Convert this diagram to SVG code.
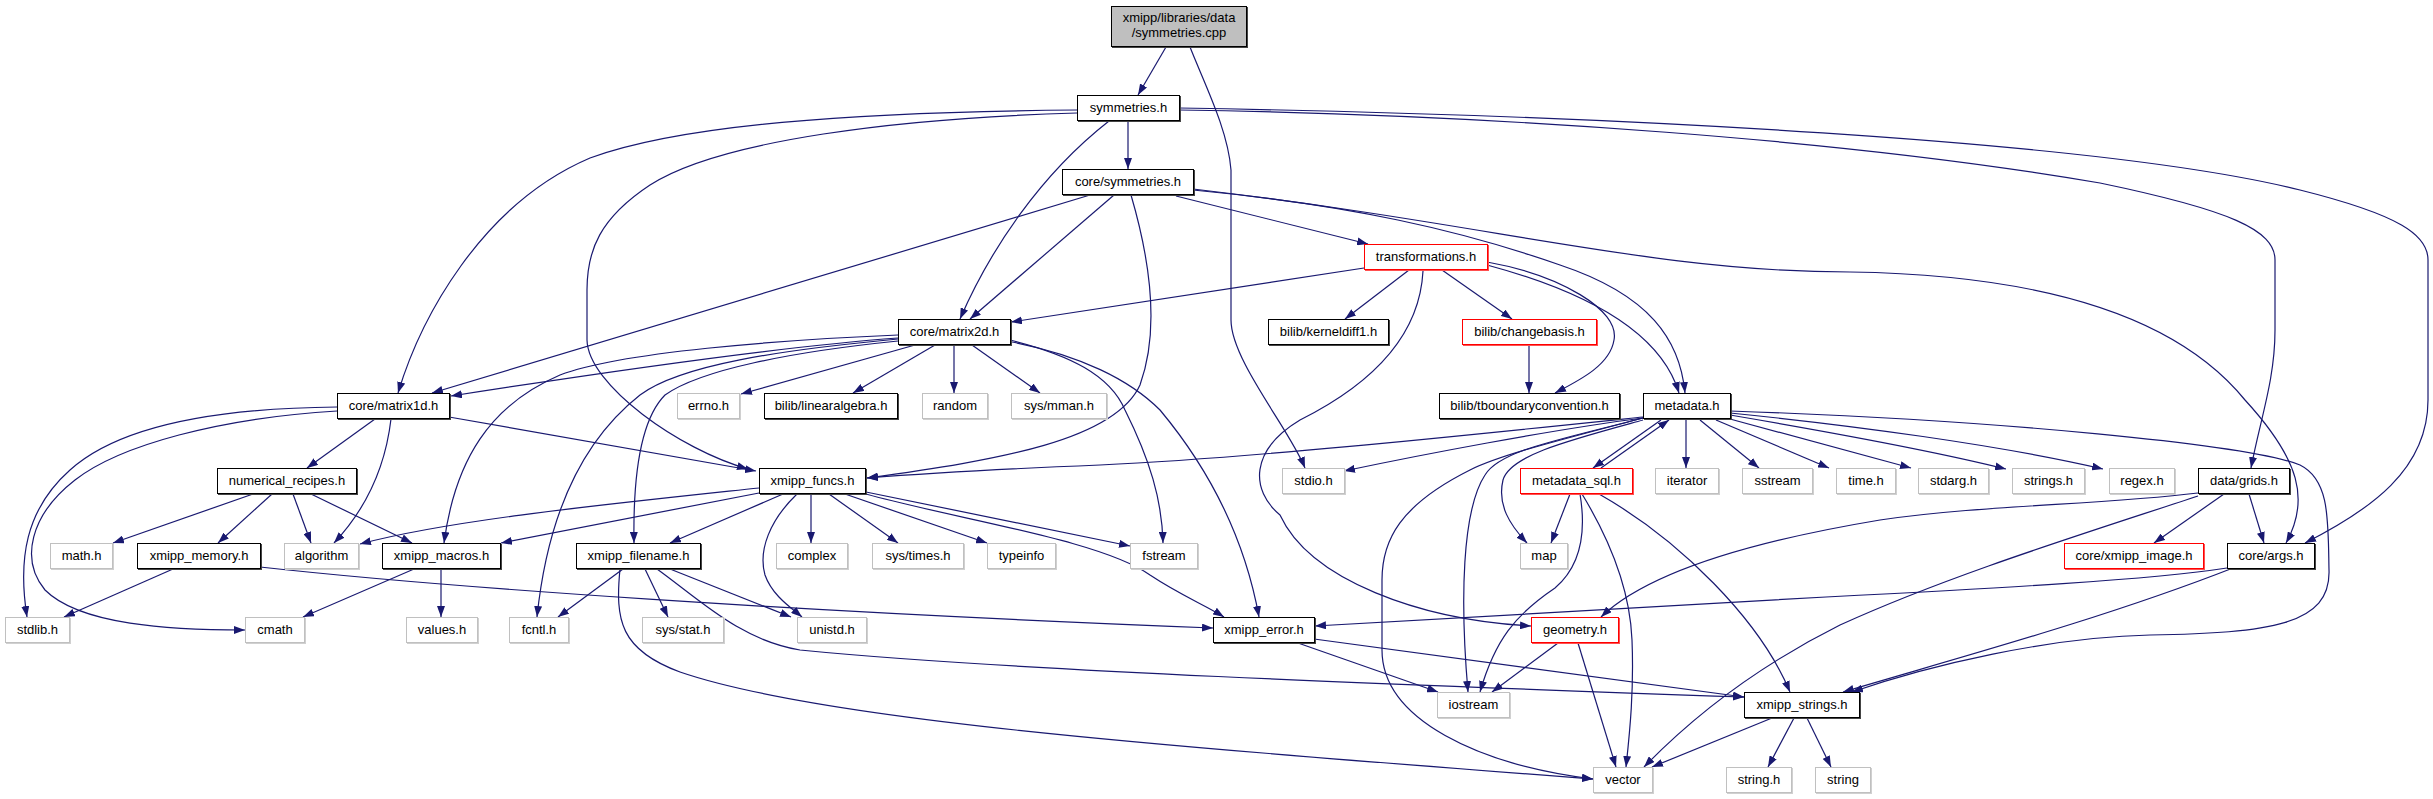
<svg xmlns="http://www.w3.org/2000/svg" width="2433" height="799" viewBox="0 0 2433 799">
<style>
text{font-family:"Liberation Sans",Arial,sans-serif;font-size:13px;fill:#000;text-anchor:middle}
.nd rect{fill:#fff;stroke:#000;stroke-width:1}
.nd rect.sh{fill:none;stroke:#444}
.gr rect{fill:#fff;stroke:#c0c0c0;stroke-width:1}
.gr rect.sh{fill:none;stroke:#d0d0d0}
.rd rect{fill:#fff;stroke:#ff0000;stroke-width:1}
.rd rect.sh{fill:none;stroke:#ff5050}
.rt rect{fill:#bfbfbf;stroke:#000;stroke-width:1}
.rt rect.sh{fill:none;stroke:#444}
#edges path{fill:none;stroke:#191970;stroke-width:1.2;marker-end:url(#ah)}
</style>
<defs>
<marker id="ah" markerUnits="userSpaceOnUse" markerWidth="11" markerHeight="8" refX="11" refY="4" orient="auto">
<path d="M0,0 L11,4 L0,8 z" fill="#191970"/>
</marker>
</defs>
<rect width="2433" height="799" fill="#fff"/>
<g id="edges">
<path d="M1166,47 L1138,95"/>
<path d="M1190,47 C1205,85 1228,130 1231,170 L1231,320 C1231,360 1290,430 1305,468"/>
<path d="M1128,121 L1128,169"/>
<path d="M1109,121 C1040,175 990,250 960,319"/>
<path d="M1077,110 C850,112 680,125 590,158 C480,205 420,320 398,393"/>
<path d="M1077,113 C900,118 720,140 650,185 C600,218 587,250 587,290 L587,340 C588,385 680,450 748,469"/>
<path d="M1179,110 C1500,115 1850,140 2100,183 C2230,210 2275,230 2275,260 L2275,330 C2275,380 2260,420 2251,468"/>
<path d="M1179,108 C1600,115 2100,140 2300,190 C2400,215 2428,235 2428,260 L2428,400 C2428,470 2370,510 2305,543"/>
<path d="M1114,195 L970,319"/>
<path d="M1090,195 L432,393"/>
<path d="M1131,195 C1150,260 1160,330 1140,385 C1115,440 1000,460 867,478"/>
<path d="M1176,196 L1368,244"/>
<path d="M1193,190 C1350,205 1460,230 1560,265 C1650,295 1680,340 1685,393"/>
<path d="M1193,189 C1500,225 1650,272 1850,272 C2050,275 2180,320 2245,400 C2300,460 2310,500 2286,543"/>
<path d="M1364,268 L1011,322"/>
<path d="M1409,270 L1345,319"/>
<path d="M1442,270 L1512,319"/>
<path d="M1487,262 C1560,275 1620,310 1614,340 C1610,365 1580,380 1555,393"/>
<path d="M1487,265 C1580,290 1660,330 1679,393"/>
<path d="M1423,271 C1420,330 1380,380 1300,420 C1250,450 1250,490 1280,515 C1310,580 1420,620 1531,626"/>
<path d="M1529,344 L1529,393"/>
<path d="M898,338 C800,345 650,365 451,396"/>
<path d="M898,335 C780,340 620,352 560,375 C490,405 455,460 444,543"/>
<path d="M898,339 C780,350 680,365 640,395 C570,450 545,540 537,617"/>
<path d="M898,341 C790,352 700,370 665,395 C640,420 633,480 634,543"/>
<path d="M915,345 L741,394"/>
<path d="M935,345 L853,393"/>
<path d="M954,345 L954,393"/>
<path d="M972,345 L1040,393"/>
<path d="M1010,340 C1070,355 1110,375 1125,410 C1150,460 1162,500 1163,543"/>
<path d="M1012,342 C1080,355 1130,380 1160,410 C1210,470 1245,540 1259,617"/>
<path d="M1643,417 C1450,437 1250,458 1100,465 C1000,469 930,473 867,478"/>
<path d="M1643,418 C1550,430 1420,455 1344,471"/>
<path d="M1661,420 L1593,468"/>
<path d="M1601,468 L1669,420"/>
<path d="M1686,420 L1686,468"/>
<path d="M1700,420 L1759,468"/>
<path d="M1716,420 L1829,468"/>
<path d="M1730,419 L1911,468"/>
<path d="M1730,415 C1830,432 1930,450 2006,469"/>
<path d="M1730,413 C1850,425 2000,445 2103,469"/>
<path d="M1730,411 C2000,420 2250,445 2300,465 C2330,480 2328,520 2329,570 C2331,625 2270,633 2150,635 C2050,637 1930,665 1852,692"/>
<path d="M1643,418 C1560,440 1500,450 1485,475 C1462,510 1460,600 1468,692"/>
<path d="M1643,418 C1560,440 1500,455 1470,470 C1400,505 1382,540 1382,580 L1382,650 C1382,720 1480,765 1593,779"/>
<path d="M1643,420 C1570,440 1510,455 1503,480 C1497,505 1510,525 1527,543"/>
<path d="M1570,494 L1551,543"/>
<path d="M1580,494 C1586,530 1582,565 1555,588 C1515,615 1495,640 1480,692"/>
<path d="M1582,494 C1610,540 1630,590 1632,640 C1634,690 1630,730 1626,767"/>
<path d="M1599,494 C1680,540 1760,620 1790,692"/>
<path d="M759,488 C600,505 450,520 360,544"/>
<path d="M759,493 L501,543"/>
<path d="M783,494 L670,543"/>
<path d="M797,494 C770,520 758,550 765,575 C772,595 790,607 802,617"/>
<path d="M811,494 L811,543"/>
<path d="M829,494 L898,543"/>
<path d="M845,494 L987,543"/>
<path d="M866,492 L1130,546"/>
<path d="M866,494 C960,520 1100,540 1150,575 C1180,595 1205,605 1224,617"/>
<path d="M253,494 L113,543"/>
<path d="M272,494 L218,543"/>
<path d="M293,494 L311,543"/>
<path d="M311,494 L412,543"/>
<path d="M375,419 L307,468"/>
<path d="M391,419 C385,470 365,510 334,543"/>
<path d="M449,417 L756,471"/>
<path d="M337,407 C220,408 120,425 70,470 C25,510 18,560 27,617"/>
<path d="M337,411 C220,418 120,445 75,480 C30,515 20,560 45,590 C80,625 170,630 245,630"/>
<path d="M173,569 L64,617"/>
<path d="M260,567 C450,588 800,612 1213,628"/>
<path d="M414,569 L303,617"/>
<path d="M441,569 L441,617"/>
<path d="M623,569 L558,617"/>
<path d="M645,569 L668,617"/>
<path d="M670,569 L791,617"/>
<path d="M657,569 C700,600 740,640 800,650 C1000,670 1400,685 1744,697"/>
<path d="M620,569 C615,620 620,650 680,672 C820,720 1150,745 1593,779"/>
<path d="M1298,643 L1438,692"/>
<path d="M1314,639 L1744,697"/>
<path d="M1558,643 L1492,692"/>
<path d="M1578,643 L1616,767"/>
<path d="M2198,493 C2100,505 1980,505 1880,520 C1760,540 1650,570 1601,617"/>
<path d="M2198,496 C2080,535 1950,575 1840,625 C1740,675 1680,730 1644,767"/>
<path d="M2224,494 L2154,543"/>
<path d="M2249,494 L2264,543"/>
<path d="M2227,568 C2150,580 2000,588 1826,597 C1600,609 1450,618 1315,626"/>
<path d="M2233,568 C2100,620 1950,660 1843,692"/>
<path d="M1772,718 L1652,767"/>
<path d="M1794,718 L1768,767"/>
<path d="M1807,718 L1831,767"/>
</g>
<g id="root" class="rt"><rect class="sh" x="1112.5" y="7.5" width="135" height="40"/><rect x="1111.5" y="6.5" width="135" height="40"/><text x="1179" y="21.5">xmipp/libraries/data</text><text x="1179" y="36.5">/symmetries.cpp</text></g>
<g id="n_sym" class="nd"><rect class="sh" x="1078.5" y="96.5" width="102" height="25"/><rect x="1077.5" y="95.5" width="102" height="25"/><text x="1128.5" y="112">symmetries.h</text></g>
<g id="n_csym" class="nd"><rect class="sh" x="1063.5" y="170.5" width="131" height="25"/><rect x="1062.5" y="169.5" width="131" height="25"/><text x="1128" y="186">core/symmetries.h</text></g>
<g id="n_trans" class="rd"><rect class="sh" x="1365.5" y="245.5" width="123" height="25"/><rect x="1364.5" y="244.5" width="123" height="25"/><text x="1426" y="261">transformations.h</text></g>
<g id="n_m2d" class="nd"><rect class="sh" x="899.5" y="320.5" width="112" height="25"/><rect x="898.5" y="319.5" width="112" height="25"/><text x="954.5" y="336">core/matrix2d.h</text></g>
<g id="n_kd1" class="nd"><rect class="sh" x="1269.5" y="320.5" width="120" height="25"/><rect x="1268.5" y="319.5" width="120" height="25"/><text x="1328.5" y="336">bilib/kerneldiff1.h</text></g>
<g id="n_cb" class="rd"><rect class="sh" x="1463.5" y="320.5" width="134" height="25"/><rect x="1462.5" y="319.5" width="134" height="25"/><text x="1529.5" y="336">bilib/changebasis.h</text></g>
<g id="n_m1d" class="nd"><rect class="sh" x="338.5" y="394.5" width="112" height="25"/><rect x="337.5" y="393.5" width="112" height="25"/><text x="393.5" y="410">core/matrix1d.h</text></g>
<g id="n_errno" class="gr"><rect class="sh" x="678.5" y="394.5" width="62" height="25"/><rect x="677.5" y="393.5" width="62" height="25"/><text x="708.5" y="410">errno.h</text></g>
<g id="n_linalg" class="nd"><rect class="sh" x="765.5" y="394.5" width="133" height="25"/><rect x="764.5" y="393.5" width="133" height="25"/><text x="831" y="410">bilib/linearalgebra.h</text></g>
<g id="n_random" class="gr"><rect class="sh" x="923.5" y="394.5" width="65" height="25"/><rect x="922.5" y="393.5" width="65" height="25"/><text x="955" y="410">random</text></g>
<g id="n_mman" class="gr"><rect class="sh" x="1012.5" y="394.5" width="95" height="25"/><rect x="1011.5" y="393.5" width="95" height="25"/><text x="1059" y="410">sys/mman.h</text></g>
<g id="n_tbc" class="nd"><rect class="sh" x="1440.5" y="394.5" width="180" height="25"/><rect x="1439.5" y="393.5" width="180" height="25"/><text x="1529.5" y="410">bilib/tboundaryconvention.h</text></g>
<g id="n_meta" class="nd"><rect class="sh" x="1644.5" y="394.5" width="87" height="25"/><rect x="1643.5" y="393.5" width="87" height="25"/><text x="1687" y="410">metadata.h</text></g>
<g id="n_numrec" class="nd"><rect class="sh" x="218.5" y="469.5" width="139" height="25"/><rect x="217.5" y="468.5" width="139" height="25"/><text x="287" y="485">numerical_recipes.h</text></g>
<g id="n_funcs" class="nd"><rect class="sh" x="760.5" y="469.5" width="106" height="25"/><rect x="759.5" y="468.5" width="106" height="25"/><text x="812.5" y="485">xmipp_funcs.h</text></g>
<g id="n_stdio" class="gr"><rect class="sh" x="1283.5" y="469.5" width="62" height="25"/><rect x="1282.5" y="468.5" width="62" height="25"/><text x="1313.5" y="485">stdio.h</text></g>
<g id="n_msql" class="rd"><rect class="sh" x="1521.5" y="469.5" width="112" height="25"/><rect x="1520.5" y="468.5" width="112" height="25"/><text x="1576.5" y="485">metadata_sql.h</text></g>
<g id="n_iter" class="gr"><rect class="sh" x="1656.5" y="469.5" width="63" height="25"/><rect x="1655.5" y="468.5" width="63" height="25"/><text x="1687" y="485">iterator</text></g>
<g id="n_sstream" class="gr"><rect class="sh" x="1743.5" y="469.5" width="70" height="25"/><rect x="1742.5" y="468.5" width="70" height="25"/><text x="1777.5" y="485">sstream</text></g>
<g id="n_time" class="gr"><rect class="sh" x="1837.5" y="469.5" width="59" height="25"/><rect x="1836.5" y="468.5" width="59" height="25"/><text x="1866" y="485">time.h</text></g>
<g id="n_stdarg" class="gr"><rect class="sh" x="1919.5" y="469.5" width="70" height="25"/><rect x="1918.5" y="468.5" width="70" height="25"/><text x="1953.5" y="485">stdarg.h</text></g>
<g id="n_strings" class="gr"><rect class="sh" x="2013.5" y="469.5" width="72" height="25"/><rect x="2012.5" y="468.5" width="72" height="25"/><text x="2048.5" y="485">strings.h</text></g>
<g id="n_regex" class="gr"><rect class="sh" x="2110.5" y="469.5" width="65" height="25"/><rect x="2109.5" y="468.5" width="65" height="25"/><text x="2142" y="485">regex.h</text></g>
<g id="n_grids" class="nd"><rect class="sh" x="2199.5" y="469.5" width="91" height="25"/><rect x="2198.5" y="468.5" width="91" height="25"/><text x="2244" y="485">data/grids.h</text></g>
<g id="n_math" class="gr"><rect class="sh" x="51.5" y="544.5" width="62" height="25"/><rect x="50.5" y="543.5" width="62" height="25"/><text x="81.5" y="560">math.h</text></g>
<g id="n_mem" class="nd"><rect class="sh" x="138.5" y="544.5" width="123" height="25"/><rect x="137.5" y="543.5" width="123" height="25"/><text x="199" y="560">xmipp_memory.h</text></g>
<g id="n_algo" class="gr"><rect class="sh" x="285.5" y="544.5" width="74" height="25"/><rect x="284.5" y="543.5" width="74" height="25"/><text x="321.5" y="560">algorithm</text></g>
<g id="n_macros" class="nd"><rect class="sh" x="383.5" y="544.5" width="118" height="25"/><rect x="382.5" y="543.5" width="118" height="25"/><text x="441.5" y="560">xmipp_macros.h</text></g>
<g id="n_fname" class="nd"><rect class="sh" x="577.5" y="544.5" width="124" height="25"/><rect x="576.5" y="543.5" width="124" height="25"/><text x="638.5" y="560">xmipp_filename.h</text></g>
<g id="n_complex" class="gr"><rect class="sh" x="777.5" y="544.5" width="71" height="25"/><rect x="776.5" y="543.5" width="71" height="25"/><text x="812" y="560">complex</text></g>
<g id="n_times" class="gr"><rect class="sh" x="873.5" y="544.5" width="91" height="25"/><rect x="872.5" y="543.5" width="91" height="25"/><text x="918" y="560">sys/times.h</text></g>
<g id="n_typeinfo" class="gr"><rect class="sh" x="988.5" y="544.5" width="68" height="25"/><rect x="987.5" y="543.5" width="68" height="25"/><text x="1021.5" y="560">typeinfo</text></g>
<g id="n_fstream" class="gr"><rect class="sh" x="1131.5" y="544.5" width="67" height="25"/><rect x="1130.5" y="543.5" width="67" height="25"/><text x="1164" y="560">fstream</text></g>
<g id="n_map" class="gr"><rect class="sh" x="1521.5" y="544.5" width="47" height="25"/><rect x="1520.5" y="543.5" width="47" height="25"/><text x="1544" y="560">map</text></g>
<g id="n_ximg" class="rd"><rect class="sh" x="2065.5" y="544.5" width="139" height="25"/><rect x="2064.5" y="543.5" width="139" height="25"/><text x="2134" y="560">core/xmipp_image.h</text></g>
<g id="n_args" class="nd"><rect class="sh" x="2228.5" y="544.5" width="87" height="25"/><rect x="2227.5" y="543.5" width="87" height="25"/><text x="2271" y="560">core/args.h</text></g>
<g id="n_stdlib" class="gr"><rect class="sh" x="6.5" y="618.5" width="64" height="25"/><rect x="5.5" y="617.5" width="64" height="25"/><text x="37.5" y="634">stdlib.h</text></g>
<g id="n_cmath" class="gr"><rect class="sh" x="246.5" y="618.5" width="59" height="25"/><rect x="245.5" y="617.5" width="59" height="25"/><text x="275" y="634">cmath</text></g>
<g id="n_values" class="gr"><rect class="sh" x="407.5" y="618.5" width="71" height="25"/><rect x="406.5" y="617.5" width="71" height="25"/><text x="442" y="634">values.h</text></g>
<g id="n_fcntl" class="gr"><rect class="sh" x="510.5" y="618.5" width="59" height="25"/><rect x="509.5" y="617.5" width="59" height="25"/><text x="539" y="634">fcntl.h</text></g>
<g id="n_stat" class="gr"><rect class="sh" x="643.5" y="618.5" width="81" height="25"/><rect x="642.5" y="617.5" width="81" height="25"/><text x="683" y="634">sys/stat.h</text></g>
<g id="n_unistd" class="gr"><rect class="sh" x="798.5" y="618.5" width="69" height="25"/><rect x="797.5" y="617.5" width="69" height="25"/><text x="832" y="634">unistd.h</text></g>
<g id="n_err" class="nd"><rect class="sh" x="1214.5" y="618.5" width="101" height="25"/><rect x="1213.5" y="617.5" width="101" height="25"/><text x="1264" y="634">xmipp_error.h</text></g>
<g id="n_geom" class="rd"><rect class="sh" x="1532.5" y="618.5" width="87" height="25"/><rect x="1531.5" y="617.5" width="87" height="25"/><text x="1575" y="634">geometry.h</text></g>
<g id="n_iostream" class="gr"><rect class="sh" x="1438.5" y="693.5" width="72" height="25"/><rect x="1437.5" y="692.5" width="72" height="25"/><text x="1473.5" y="709">iostream</text></g>
<g id="n_strs" class="nd"><rect class="sh" x="1745.5" y="693.5" width="115" height="25"/><rect x="1744.5" y="692.5" width="115" height="25"/><text x="1802" y="709">xmipp_strings.h</text></g>
<g id="n_vector" class="gr"><rect class="sh" x="1594.5" y="768.5" width="59" height="25"/><rect x="1593.5" y="767.5" width="59" height="25"/><text x="1623" y="784">vector</text></g>
<g id="n_stringh" class="gr"><rect class="sh" x="1727.5" y="768.5" width="65" height="25"/><rect x="1726.5" y="767.5" width="65" height="25"/><text x="1759" y="784">string.h</text></g>
<g id="n_string" class="gr"><rect class="sh" x="1816.5" y="768.5" width="55" height="25"/><rect x="1815.5" y="767.5" width="55" height="25"/><text x="1843" y="784">string</text></g>
</svg>
